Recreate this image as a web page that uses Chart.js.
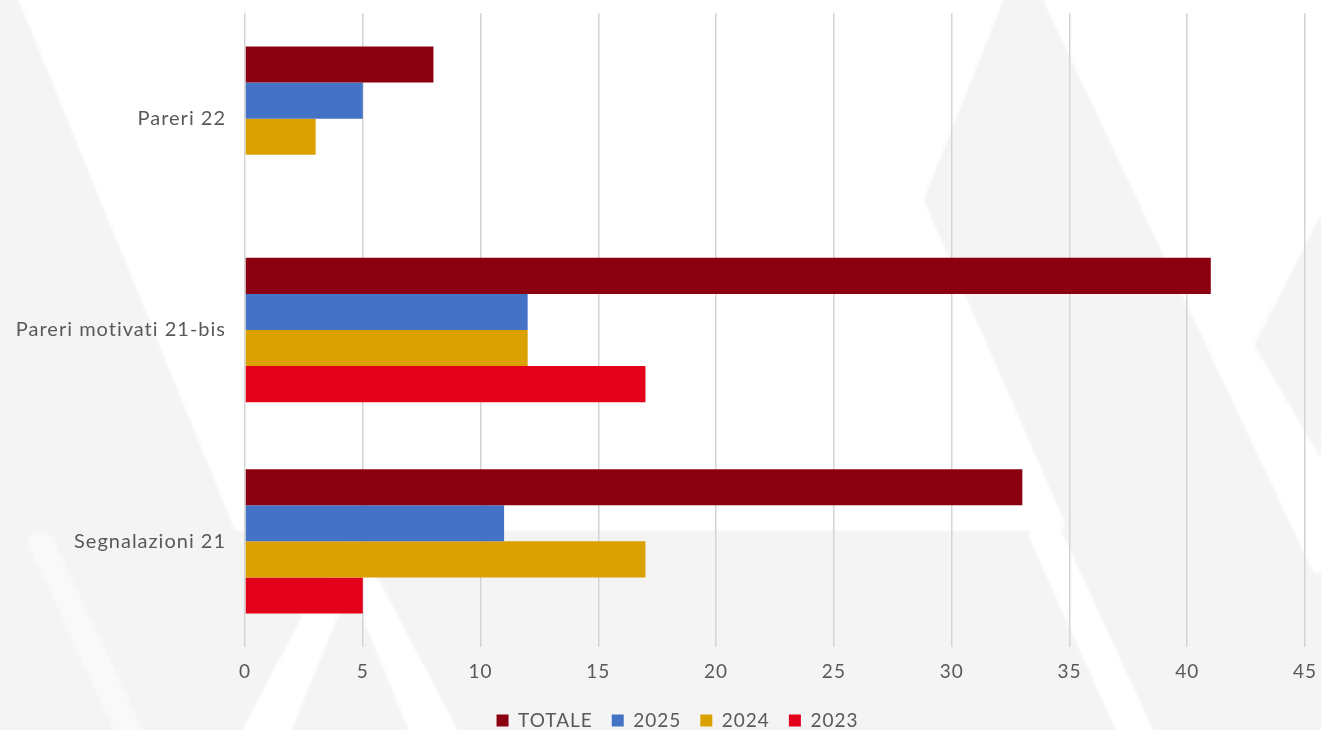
<!DOCTYPE html>
<html lang="it">
<head>
<meta charset="utf-8">
<title>Pareri e segnalazioni</title>
<script src="https://cdn.jsdelivr.net/npm/chart.js@4.4.1/dist/chart.umd.min.js"></script>
<style>
  html, body { margin: 0; padding: 0; background: #f4f4f4; overflow: hidden; }
  #wrap { width: 1321px; height: 730px; }
</style>
</head>
<body>
<div id="wrap"><canvas id="chart" width="1321" height="730"></canvas></div>
<script>
// Categories (top to bottom) and the four series
const categories = ['Pareri 22', 'Pareri motivati 21-bis', 'Segnalazioni 21'];
const seriesNames = ['TOTALE', '2025', '2024', '2023'];
const totale = [8, 41, 33];
const anno2025 = [5, 12, 11];
const anno2024 = [3, 12, 17];
const anno2023 = [null, 17, 5];
const xTicks = [0, 5, 10, 15, 20, 25, 30, 35, 40, 45];

const seriesColors = ['#8a0010', '#4472c4', '#dba100', '#e2001a'];
const textColor = '#595959';
const fontFamily = 'Lato, "Open Sans", sans-serif';

// Wider tracking for all chart text; legend row nudged to the right
const tracking = {
  id: 'tracking',
  beforeLayout(chart) { chart.ctx.letterSpacing = '1px'; },
  afterLayout(chart) { if (chart.legend) chart.legend.left += 50; },
  beforeDraw(chart) { chart.ctx.letterSpacing = '1px'; }
};

// Soft watermark shapes painted behind the plot
const watermark = {
  id: 'watermark',
  beforeDraw(chart) {
    const ctx = chart.ctx;
    const W = chart.width, H = chart.height;
    ctx.save();
    ctx.fillStyle = '#f4f4f4';
    ctx.fillRect(0, 0, W, H);
    ctx.filter = 'blur(1.5px)';
    const poly = (pts, color) => {
      ctx.beginPath();
      ctx.moveTo(pts[0][0], pts[0][1]);
      for (let i = 1; i < pts.length; i++) ctx.lineTo(pts[i][0], pts[i][1]);
      ctx.closePath();
      ctx.fillStyle = color;
      ctx.strokeStyle = color;
      ctx.lineJoin = 'round';
      ctx.lineWidth = 14;
      ctx.fill();
      ctx.stroke();
    };
    // wide light field across the upper middle
    poly([[22, -10], [1000, -10], [916, 200], [1058, 524], [240, 524]], '#ffffff');
    // light field on the upper right
    poly([[1046, -10], [1330, -10], [1330, 560], [1318, 566]], '#ffffff');
    // grey chevron on the right edge
    poly([[1330, 212], [1262, 345], [1330, 460]], '#f4f4f4');
    // light stripe between the lower blocks
    poly([[1036, 536], [1056, 536], [1150, 740], [1128, 740]], '#ffffff');
    // light inverted V near the origin
    poly([[350, 540], [455, 740], [245, 740]], '#ffffff');
    poly([[350, 605], [405, 740], [295, 740]], '#f4f4f4');
    // thin light stripe at the lower left
    poly([[34, 540], [46, 540], [140, 740], [126, 740]], '#f9f9f9');
    ctx.restore();
    ctx.letterSpacing = '1px';
  }
};

const datasetValues = [totale, anno2025, anno2024, anno2023];

new Chart(document.getElementById('chart'), {
  type: 'bar',
  data: {
    labels: categories,
    datasets: seriesNames.map((name, i) => ({
      label: name,
      data: datasetValues[i],
      backgroundColor: seriesColors[i],
      borderWidth: 0,
      categoryPercentage: 0.683,
      barPercentage: 1.0
    }))
  },
  options: {
    indexAxis: 'y',
    responsive: false,
    devicePixelRatio: 1,
    animation: false,
    layout: { padding: { top: 13, right: 16, bottom: -10, left: 0 } },
    scales: {
      x: {
        min: 0,
        max: 45,
        afterBuildTicks(scale) { scale.ticks = xTicks.map(v => ({ value: v })); },
        afterFit(scale) {
          scale.height = 45;
          scale.paddingLeft = 0;
          scale.paddingRight = 0;
        },
        grid: { color: '#d4d4d4', lineWidth: 1.5, drawTicks: false },
        border: { display: false },
        ticks: { color: textColor, font: { family: fontFamily, size: 19 }, padding: 13 }
      },
      y: {
        afterFit(scale) {
          scale.width = 245;
          scale.paddingTop = 0;
          scale.paddingBottom = 0;
        },
        grid: { display: false },
        border: { display: false },
        ticks: { color: textColor, font: { family: fontFamily, size: 20 }, padding: 11 }
      }
    },
    plugins: {
      legend: {
        position: 'bottom',
        labels: {
          boxWidth: 12,
          boxHeight: 12,
          padding: 19,
          color: textColor,
          font: { family: fontFamily, size: 19 }
        }
      },
      tooltip: { enabled: false }
    }
  },
  plugins: [tracking, watermark]
});
</script>
</body>
</html>
